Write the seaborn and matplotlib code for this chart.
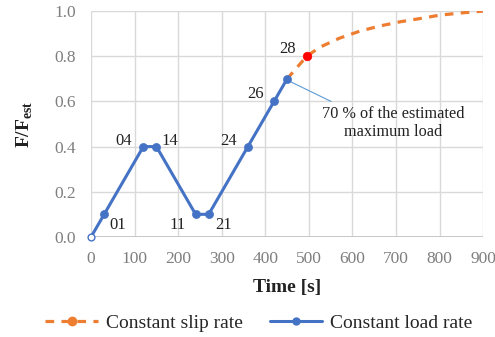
import numpy as np
import pandas as pd
import seaborn as sns
import matplotlib.pyplot as plt
from matplotlib.lines import Line2D

# Values
load_time = [0, 30, 120, 150, 240, 270, 360, 420, 450]
load_ratio = [0.0, 0.1, 0.4, 0.4, 0.1, 0.1, 0.4, 0.6, 0.7]
step_labels = ["", "01", "04", "14", "11", "21", "24", "26", ""]

slip_time = [450, 495, 525, 570, 615, 660, 710, 755, 800, 850, 900]
slip_ratio = [0.70, 0.80, 0.84, 0.88, 0.91, 0.933, 0.953, 0.967, 0.982, 0.992, 1.0]

red_time = [495]
red_ratio = [0.8]
red_label = "28"

sns.set_style("whitegrid")
plt.rcParams["font.family"] = ["Liberation Serif", "DejaVu Serif"]
plt.rcParams["mathtext.fontset"] = "custom"
plt.rcParams["mathtext.rm"] = "Liberation Serif"
plt.rcParams["mathtext.bf"] = "Liberation Serif:bold"

blue = "#4472C4"
orange = "#ED7D31"
dash = (0, (2.7, 2.3))

fig = plt.figure(figsize=(4.95, 3.37), dpi=100)
ax = fig.add_axes([0.184, 0.297, 0.792, 0.670])

df_load = pd.DataFrame({"t": load_time, "r": load_ratio})
df_slip = pd.DataFrame({"t": slip_time, "r": slip_ratio})

sns.lineplot(data=df_slip, x="t", y="r", ax=ax, color=orange, lw=2.3,
             linestyle=dash, zorder=2)
sns.lineplot(data=df_load, x="t", y="r", ax=ax, color=blue, lw=2.2, zorder=3)
sns.scatterplot(x=load_time[1:], y=load_ratio[1:], ax=ax, color=blue, s=34,
                edgecolor=blue, zorder=4)
sns.scatterplot(x=load_time[:1], y=load_ratio[:1], ax=ax, facecolor="white",
                edgecolor=blue, s=24, linewidth=1, zorder=5, clip_on=False)
sns.scatterplot(x=red_time, y=red_ratio, ax=ax, color="#FF0000", s=38,
                edgecolor="#FF0000", zorder=5)

# point labels: (dx, dy) in points, alignment
offsets = {"01": (4, -8, "left"), "04": (-8, 4, "right"), "14": (4, 4, "left"),
           "11": (-7, -8, "right"), "21": (5, -8, "left"), "24": (-8, 4, "right"),
           "26": (-7, 5, "right")}
for t, r, lab in zip(load_time, load_ratio, step_labels):
    if lab:
        dx, dy, ha = offsets[lab]
        ax.annotate(lab, (t, r), xytext=(dx, dy), textcoords="offset points",
                    ha=ha, va="center", fontsize=12, color="#222222")
ax.annotate(red_label, (red_time[0], red_ratio[0]), xytext=(-8, 5),
            textcoords="offset points", ha="right", va="center",
            fontsize=12, color="#222222")

ax.annotate("", xy=(455, 0.69), xytext=(551, 0.60),
            arrowprops=dict(arrowstyle="-", color="#5B9BD5", lw=0.8,
                            shrinkA=0, shrinkB=0))
ax.text(693, 0.504, "70 % of the estimated\nmaximum load", ha="center",
        va="center", fontsize=11.7, color="#222222", linespacing=1.2)

ax.set_xlim(0, 900)
ax.set_ylim(0, 1.0)
ax.set_xticks(np.arange(0, 901, 100))
ax.set_yticks(np.arange(0, 1.01, 0.2))
ax.set_yticklabels([f"{v:.1f}" for v in np.arange(0, 1.01, 0.2)])
ax.tick_params(axis="y", labelsize=12.5, colors="#7F7F7F", length=0, pad=11)
ax.tick_params(axis="x", labelsize=12.5, colors="#7F7F7F", length=0, pad=10)
ax.grid(color="#D9D9D9", lw=1)
for s in ax.spines.values():
    s.set_visible(False)
ax.axhline(0, color="#BFBFBF", lw=1.2, zorder=1)

ax.set_xlabel("Time [s]", fontsize=14, fontweight="bold", color="#222222", labelpad=9)
ax.set_ylabel(r"F/F$_{\mathbf{est}}$", fontsize=14, fontweight="bold",
              color="#222222", labelpad=14)

handles = [
    Line2D([], [], color=orange, lw=2.3, linestyle=dash, marker="o",
           markersize=6),
    Line2D([], [], color=blue, lw=2.2, marker="o", markersize=5),
]
fig.legend(handles, ["Constant slip rate", "Constant load rate"],
           loc="center", bbox_to_anchor=(0.523, 0.042), ncol=2, frameon=False,
           fontsize=14, handlelength=2.7, columnspacing=1.4, handletextpad=0.4)

fig.savefig("out.png", dpi=100)
